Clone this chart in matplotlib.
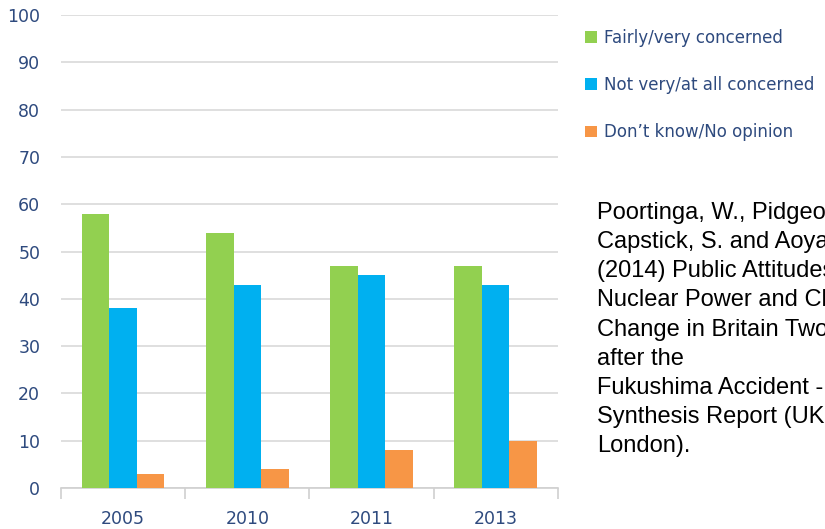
import numpy as np
import matplotlib.pyplot as plt

# survey years and responses (%)
years = ['2005', '2010', '2011', '2013']
concerned = [58, 54, 47, 47]
not_concerned = [38, 43, 45, 43]
dont_know = [3, 4, 8, 10]
series_names = ['Fairly/very concerned', 'Not very/at all concerned', 'Don\u2019t know/No opinion']

citation = ("Poortinga, W., Pidgeon, N.,\nCapstick, S. and Aoyagi, M.\n(2014) Public Attitudes to\n"
            "Nuclear Power and Climate\nChange in Britain Two Years\nafter the\n"
            "Fukushima Accident -\nSynthesis Report (UKERC:\nLondon).")

colors = ['#92D050', '#00B0F0', '#F79646']
txt_col = '#2E4A7E'

fig = plt.figure(figsize=(8.25, 5.29), dpi=100)
ax = fig.add_axes([0.074, 0.0775, 0.602, 0.894])

x = np.arange(len(years))
w = 0.222
for i, (vals, c, name) in enumerate(zip([concerned, not_concerned, dont_know], colors, series_names)):
    ax.bar(x + (i - 1) * w, vals, width=w, color=c, label=name, zorder=3)

ax.set_xlim(-0.5, len(years) - 0.5)
ax.set_ylim(0, 100)
ax.set_yticks(range(0, 101, 10))
ax.yaxis.grid(True, color='#D9D9D9', linewidth=1.2, zorder=0)
for s in ['top', 'right', 'left']:
    ax.spines[s].set_visible(False)
ax.spines['bottom'].set_color('#D0D0D0')
ax.spines['bottom'].set_linewidth(1.2)

# category labels centred, ticks on the boundaries
ax.set_xticks(x)
ax.set_xticklabels(years)
ax.set_xticks(np.arange(-0.5, len(years)), minor=True)
ax.tick_params(axis='x', which='major', length=0, pad=16, labelsize=12.5, labelcolor=txt_col)
ax.tick_params(axis='x', which='minor', length=8, color='#D0D0D0', width=1.2)
ax.tick_params(axis='y', length=0, pad=15, labelsize=12.5, labelcolor=txt_col)

leg = ax.legend(loc='upper left', bbox_to_anchor=(1.024, 1.003), frameon=False,
                handlelength=0.72, handleheight=0.72, handletextpad=0.45,
                labelspacing=1.76, prop={'size': 12})
for t in leg.get_texts():
    t.set_color(txt_col)

fig.text(597 / 825, 1 - 202 / 529, citation, fontsize=17, family='Liberation Sans',
         va='top', ha='left', linespacing=1.42, color='black')

plt.savefig('out.png', dpi=100)
